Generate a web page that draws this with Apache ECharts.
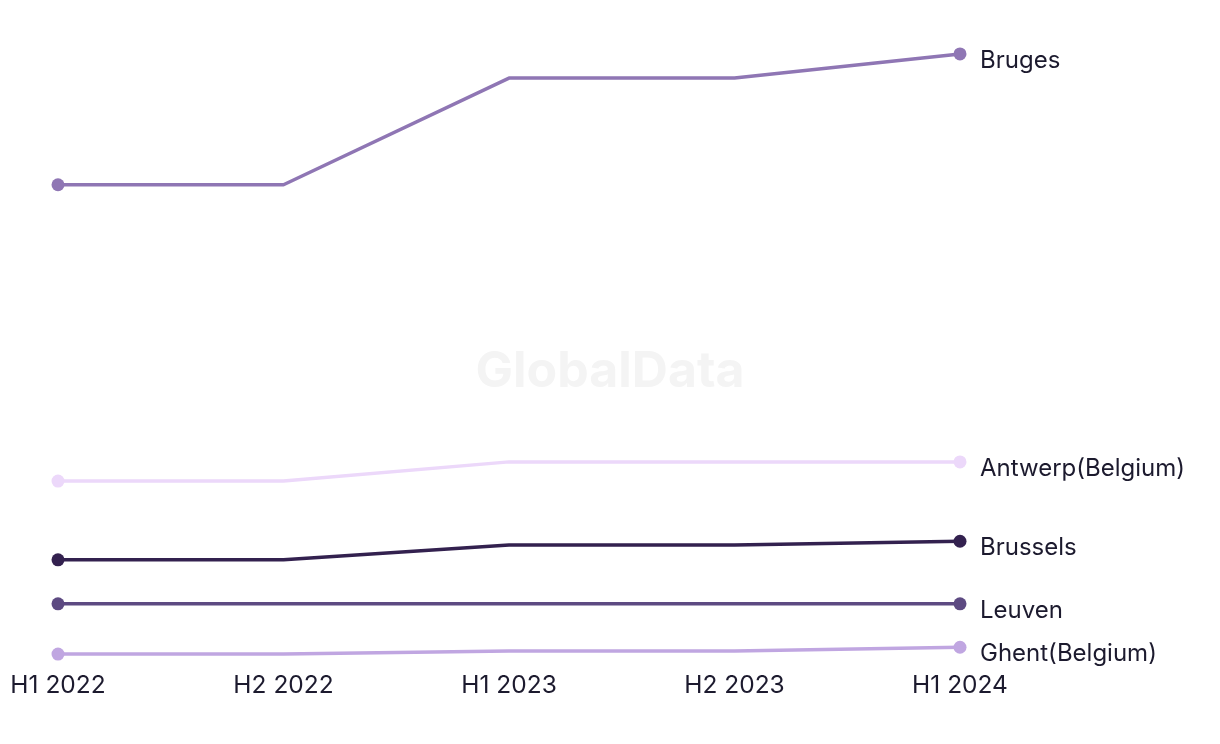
<!DOCTYPE html>
<html>
<head>
<meta charset="utf-8">
<script src="https://cdn.jsdelivr.net/npm/echarts@6/dist/echarts.min.js"></script>
<style>html,body{margin:0;padding:0;background:#fff}#c{width:1220px;height:744px}</style>
</head>
<body>
<div id="c"></div>
<script>
const categories = ['H1 2022', 'H2 2022', 'H1 2023', 'H2 2023', 'H1 2024'];
const seriesNames = ['Bruges', 'Antwerp(Belgium)', 'Brussels', 'Leuven', 'Ghent(Belgium)'];
const bruges = [77.3, 77.3, 94.5, 94.5, 98.4];
const antwerp = [29.5, 29.5, 32.6, 32.6, 32.6];
const brussels = [16.8, 16.8, 19.2, 19.2, 19.8];
const leuven = [9.7, 9.7, 9.7, 9.7, 9.7];
const ghent = [1.6, 1.6, 2.1, 2.1, 2.7];
const colors = ['#8f76b4', '#ecd8fa', '#33214f', '#5d4a82', '#c0a6e1'];

const values = [bruges, antwerp, brussels, leuven, ghent];
const chart = echarts.init(document.getElementById('c'), null, {renderer: 'canvas'});
chart.setOption({
  animation: false,
  backgroundColor: '#ffffff',
  graphic: [{
    type: 'text', left: 'center', top: 347, z: 0,
    style: {text: 'GlobalData', font: 'bold 50px Inter, "Liberation Sans", sans-serif', fill: '#f4f4f4'}
  }],
  grid: {left: 58, right: 260, top: 44, bottom: 80},
  xAxis: {
    type: 'category', data: categories, boundaryGap: false,
    axisLine: {show: false}, axisTick: {show: false}, splitLine: {show: false},
    axisLabel: {color: '#1c1a2e', fontSize: 24.5, fontFamily: 'Inter, sans-serif', margin: 9}
  },
  yAxis: {type: 'value', min: 0, max: 100, show: false, splitLine: {show: false}},
  series: values.map((v, i) => ({
    name: seriesNames[i], type: 'line', data: v, z: 10 - i,
    color: colors[i],
    lineStyle: {width: 3.5, color: colors[i]},
    itemStyle: {color: colors[i]},
    symbol: 'circle',
    symbolSize: (val, p) => (p.dataIndex === 0 || p.dataIndex === v.length - 1) ? 13 : 0,
    showAllSymbol: true,
    endLabel: {
      show: true, formatter: '{a}', color: '#1c1a2e', fontSize: 24,
      fontFamily: 'Inter, sans-serif', offset: [12, 7]
    }
  }))
});
</script>
</body>
</html>
